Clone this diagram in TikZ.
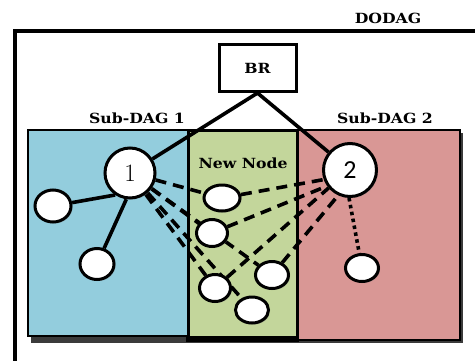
\documentclass[tikz,border=0pt]{standalone}
\usepackage{fontspec}
\usetikzlibrary{shadows,shapes.geometric}
\newfontfamily\slabfont{DejaVu Serif}[FakeStretch=1.12]
\newfontfamily\numsans{Carlito}
\definecolor{subone}{HTML}{93CDDD}
\definecolor{newzone}{HTML}{C3D69B}
\definecolor{subtwo}{HTML}{D99795}
\pgfdeclarelayer{boxes}
\pgfdeclarelayer{links}
\pgfsetlayers{boxes,links,main}
\tikzset{
  heading/.style={font=\slabfont\bfseries\fontsize{14}{16}\selectfont, inner sep=0pt},
  shade/.style={drop shadow={shadow xshift=1.5pt, shadow yshift=-1.5pt, opacity=0.35}},
  rank/.style={circle, draw, line width=3pt, fill=white, minimum size=#1, inner sep=0pt, shade},
  leaf/.style n args={2}{ellipse, draw, line width=3pt, fill=white, minimum width=#1, minimum height=#2, inner sep=0pt, shade},
  tree/.style={line width=3.6pt},
  candidate/.style={line width=3.6pt, dash pattern=on 11pt off 7pt},
  spare/.style={line width=3.6pt, dash pattern=on 3.5pt off 3.5pt}
}
\begin{document}
\begin{tikzpicture}[x=1pt,y=-1pt]
\useasboundingbox (0,0) rectangle (475,360);

% DODAG frame, running off the page to the right and bottom
\draw[line width=3.2pt] (477,31) -- (15,31) -- (15,362);
\node[heading] (dodag) at (388,18) {DODAG};

% border router
\node[draw, line width=3pt, fill=white, minimum width=77pt, minimum height=47pt, inner sep=0pt, shade, font=\slabfont\bfseries\fontsize{14}{16}\selectfont] (br) at (257.5,68) {BR};

% sub-DAG areas
\begin{pgfonlayer}{boxes}
  \fill[black!85, opacity=0.9] (31,133) rectangle (463,343);
  \draw[line width=2.2pt, fill=subone] (28,130) rectangle (188,336);
  \draw[line width=2.2pt, fill=subtwo] (297,130) rectangle (460,340);
  \fill[black] (186,335) rectangle (299,342);
  \draw[line width=3pt, fill=newzone] (188,130) rectangle (297,337);
\end{pgfonlayer}
\node[heading] (sub1) at (137,118) {Sub-DAG 1};
\node[heading] (sub2) at (385,118) {Sub-DAG 2};
\node[heading] (newnode) at (243,163) {New Node};

% rank-1 nodes
\node[rank=50pt, font=\fontsize{25}{25}\selectfont] (r1) at (130,173) {1};
\node[rank=53pt, font=\numsans\fontsize{26}{26}\selectfont] (r2) at (350,170) {2};

% children of the sub-DAGs
\node[leaf={36pt}{32pt}] (a) at (53,206) {};
\node[leaf={34pt}{31pt}] (b) at (97,264) {};
\node[leaf={33pt}{27pt}] (c) at (362,268) {};

% joining nodes
\node[leaf={36pt}{26pt}] (j1) at (222,198) {};
\node[leaf={31pt}{27pt}] (j2) at (212,233) {};
\node[leaf={31pt}{27pt}] (j3) at (215,288) {};
\node[leaf={33pt}{27pt}] (j4) at (272,275) {};
\node[leaf={33pt}{26pt}] (j5) at (252,310) {};

\begin{pgfonlayer}{links}
  \draw[tree] (br.south) -- (r1);
  \draw[tree] (br.south) -- (r2);
  \draw[tree] (a) -- (r1.236);
  \draw[tree] (b) -- (r1.262);
  \draw[spare] (r2.268) -- (c);
  \draw[candidate] (r1) -- (j1);
  \draw[candidate] (r1) -- (j2);
  \draw[candidate] (r1) -- (j3);
  \draw[candidate] (r1) -- (j4);
  \draw[candidate] (r1) -- (j5);
  \draw[candidate] (j1) -- (r2.200);
  \draw[candidate] (j2) -- (r2.215);
  \draw[candidate] (j3) -- (r2.220);
  \draw[candidate] (j4) -- (r2.245);
\end{pgfonlayer}
\end{tikzpicture}
\end{document}
